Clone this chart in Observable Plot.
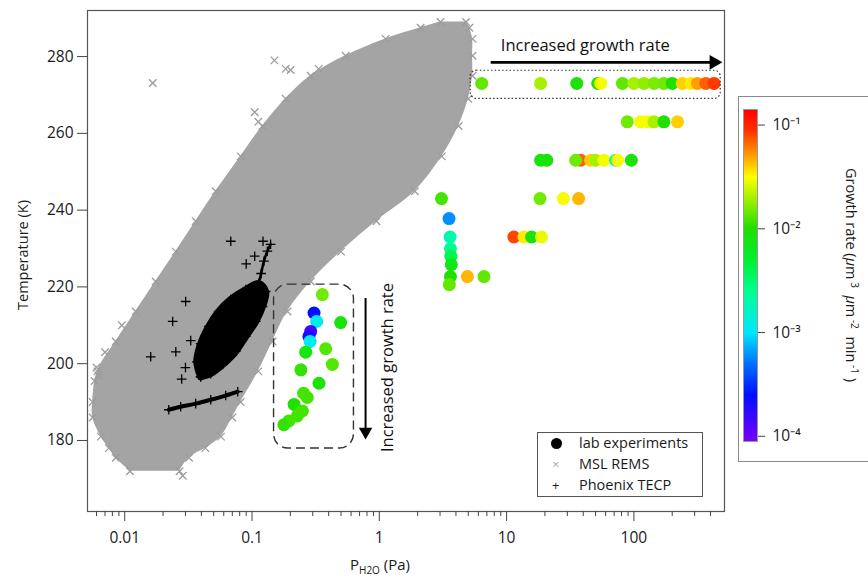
<!DOCTYPE html>
<html>
<head>
<meta charset="utf-8">
<script src="https://cdn.jsdelivr.net/npm/d3@7"></script>
<script src="https://cdn.jsdelivr.net/npm/@observablehq/plot@0.6"></script>
<style>
  body { margin: 0; background: #fff; font-family: "Open Sans", sans-serif; }
  #wrap { position: relative; width: 868px; height: 578px; overflow: hidden; }
  #wrap > svg, #wrap > figure { position: absolute; left: 0; top: 0; }
  .ov { position: absolute; color: #1a1a1a; white-space: nowrap; }
</style>
</head>
<body>
<div id="wrap"></div>
<script>
// ---------- MSL REMS cloud: temperature (K) with observed P range (Pa) ----------
const mslT    = [172, 175.5, 178, 181, 186, 190, 198, 205.8, 213.6, 221.4, 229.2, 237.1, 244.9, 254, 261.9, 269, 275, 280.2, 284.6, 287.5, 289];
const mslPmin = [0.011, 0.0085, 0.0075, 0.0065, 0.0056, 0.0056, 0.0061, 0.0085, 0.0122, 0.0175, 0.0252, 0.0361, 0.0519, 0.0815, 0.121, 0.184, 0.289, 0.544, 1.12, 2.11, 3.03];
const mslPmax = [0.027, 0.032, 0.043, 0.057, 0.070, 0.0815, 0.112, 0.145, 0.19, 0.29, 0.50, 0.95, 1.9, 3.1, 4.2, 5.0, 5.4, 5.4, 5.4, 5.1, 4.8];
// isolated MSL outliers
const mslOutP = [0.0166, 0.184, 0.201, 0.334, 0.0060, 0.0286, 0.0058, 0.0062, 0.150, 0.105, 0.112, 0.0095, 0.0070];
const mslOutT = [273.1, 276.8, 276.5, 276.8, 199.0, 170.8, 195.5, 197.0, 279.0, 265.5, 263.0, 210.0, 203.0];

// ---------- Phoenix TECP ----------
const phxStreakP = [0.0222, 0.0275, 0.0361, 0.0474, 0.0621, 0.0772];
const phxStreakT = [188.0, 188.8, 189.6, 190.6, 191.7, 192.7];
const phxLoopP = [0.0395, 0.0368, 0.0395, 0.0457, 0.0547, 0.068, 0.0893, 0.113, 0.128, 0.121, 0.107, 0.0893, 0.0745, 0.0589, 0.0474, 0.0395];
const phxLoopT = [196.6, 200.5, 205.2, 209.7, 213.6, 216.7, 219.3, 220.9, 218.8, 214.9, 211.0, 207.1, 203.2, 199.8, 197.4, 196.6];
const phxTailP = [0.113, 0.118, 0.124, 0.132, 0.140];
const phxTailT = [220.9, 223.5, 226.7, 229.3, 231.1];
const phxScatP = [0.0252, 0.0238, 0.0301, 0.0681, 0.122, 0.0160, 0.105, 0.090, 0.0280, 0.033, 0.030];
const phxScatT = [203.1, 211.0, 216.2, 231.9, 231.9, 201.8, 228.0, 226.0, 196.0, 206.0, 199.0];

// ---------- Lab experiments: P (Pa), T (K), growth rate ----------
const labP = [
  6.37, 18.5, 35.6, 52, 54.9, 81.3, 100, 120, 144, 172, 200, 240, 279, 315, 367, 426,
  88.7, 113, 128, 144, 172, 220,
  18.5, 20.7, 38.2, 34.9, 45.8, 50.1, 58.2, 71.9, 74.6, 95.5,
  3.08, 18.3, 27.9, 36.8,
  3.53,
  3.60, 11.4, 13.7, 15.7, 18.8,
  3.62, 3.65, 3.68, 3.62, 4.92, 6.64, 3.55,
  0.357, 0.307, 0.322, 0.497, 0.289, 0.280, 0.286, 0.264, 0.379, 0.428, 0.242, 0.336, 0.254, 0.272, 0.214, 0.249, 0.227, 0.195, 0.178
];
const labT = [
  273, 273, 273, 273, 273, 273, 273, 273, 273, 273, 273, 273, 273, 273, 273, 273,
  263, 263, 263, 263, 263, 263,
  253, 253, 253, 253, 253, 253, 253, 253, 253, 253,
  243, 243, 243, 243,
  237.8,
  233, 233, 233, 233, 233,
  230, 228, 225.8, 222.7, 222.7, 222.7, 220.6,
  218.0, 213.2, 211.0, 210.7, 208.4, 207.1, 205.8, 203.0, 203.9, 199.8, 198.4, 194.9, 192.3, 191.2, 189.4, 187.7, 186.4, 185.1, 184.1
];
const labRate = [
  0.014, 0.02, 0.009, 0.009, 0.03, 0.014, 0.02, 0.018, 0.016, 0.015, 0.01, 0.04, 0.035, 0.05, 0.07, 0.085,
  0.015, 0.03, 0.03, 0.02, 0.01, 0.04,
  0.009, 0.009, 0.07, 0.015, 0.04, 0.02, 0.03, 0.002, 0.03, 0.009,
  0.012, 0.015, 0.03, 0.045,
  0.0006,
  0.002, 0.08, 0.035, 0.009, 0.028,
  0.0025, 0.004, 0.007, 0.01, 0.045, 0.014, 0.014,
  0.015, 0.00025, 0.0012, 0.009, 0.00014, 0.0002, 0.0011, 0.008, 0.013, 0.013, 0.011, 0.009, 0.012, 0.012, 0.01, 0.012, 0.012, 0.012, 0.011
];

// ---------- axes ----------
const xMajor = [0.01, 0.1, 1, 10, 100];
const xMinor = [0.006, 0.007, 0.008, 0.009, 0.02, 0.03, 0.04, 0.05, 0.06, 0.07, 0.08, 0.09,
  0.2, 0.3, 0.4, 0.5, 0.6, 0.7, 0.8, 0.9, 2, 3, 4, 5, 6, 7, 8, 9,
  20, 30, 40, 50, 60, 70, 80, 90, 200, 300, 400];
const yTicks = [180, 200, 220, 240, 260, 280];
const cbTicks = [-4, -3, -2, -1];
const cbLabels = ["10⁻⁴", "10⁻³", "10⁻²", "10⁻¹"];

// ---------- annotations (data units) ----------
const dashBox = {x1: 0.149, x2: 0.632, y1: 177.9, y2: 220.6};
const dotBox  = {x1: 5.22, x2: 481, y1: 269, y2: 276.3};
const hArrow  = {x1: 7.5, tip: 425, y: 278.5};
const vArrow  = {x: 0.78, y1: 217.1, tip: 182.3};

// ---------- colour ramp (rainbow, log growth rate) ----------
const rampExp   = [-4.05, -3.6, -3.3, -3.0, -2.6, -2.3, -2.0, -1.75, -1.5, -1.3, -1.05, -0.85];
const rampColor = ["#7a00ff", "#0010ff", "#0070ff", "#00e8ff", "#00ff90", "#00f030", "#20e000", "#90ee00", "#ffff00", "#ffa000", "#ff3000", "#ff0000"];
const rampScale = d3.scaleLinear().domain(rampExp).range(rampColor).clamp(true);
const eMin = -4.05, eMax = -0.85;
const ramp = t => rampScale(eMin + t * (eMax - eMin));

// ---------- build tables ----------
const mslBand = mslT.map((t, i) => ({T: t, lo: mslPmin[i], hi: mslPmax[i]}));
const mslPts = mslBand.flatMap(d => [{P: d.lo, T: d.T}, {P: d.hi, T: d.T}])
  .concat(mslOutP.map((p, i) => ({P: p, T: mslOutT[i]})));
const zip = (a, b) => a.map((p, i) => ({P: p, T: b[i]}));
const phxStreak = zip(phxStreakP, phxStreakT);
const phxLoop = zip(phxLoopP, phxLoopT);
const phxTail = zip(phxTailP, phxTailT);
const phxAll = [...phxStreak, ...phxLoop, ...phxTail, ...zip(phxScatP, phxScatT)];
const lab = labP.map((p, i) => ({P: p, T: labT[i], rate: labRate[i]}));

const main = Plot.plot({
  width: 868, height: 578,
  marginLeft: 87, marginRight: 144, marginTop: 10, marginBottom: 67,
  style: {fontFamily: "Open Sans, sans-serif", fontSize: "15px", color: "#1a1a1a", background: "transparent"},
  x: {type: "log", domain: [0.0051, 515]},
  y: {domain: [161.5, 292]},
  color: {type: "log", domain: [10 ** eMin, 10 ** eMax], interpolate: () => ramp},
  marks: [
    Plot.areaX(mslBand, {y: "T", x1: "lo", x2: "hi", fill: "#a4a4a4", curve: "catmull-rom"}),
    Plot.dot(mslPts, {x: "P", y: "T", symbol: "times", r: 3.5, stroke: "#9c9c9c", strokeWidth: 1.3}),
    Plot.line(phxStreak, {x: "P", y: "T", stroke: "#000", strokeWidth: 4, curve: "catmull-rom"}),
    Plot.line(phxLoop, {x: "P", y: "T", stroke: "#000", fill: "#000", strokeWidth: 7, strokeLinejoin: "round", curve: "catmull-rom"}),
    Plot.line(phxTail, {x: "P", y: "T", stroke: "#000", strokeWidth: 2.5, curve: "catmull-rom"}),
    Plot.dot(phxAll, {x: "P", y: "T", symbol: "plus", r: 3.2, stroke: "#000", strokeWidth: 1.3}),
    Plot.dot(lab, {x: "P", y: "T", fill: "rate", r: 6.5}),
    Plot.rect([dashBox], {x1: "x1", x2: "x2", y1: "y1", y2: "y2", fill: "none", stroke: "#333", strokeWidth: 1.4, strokeDasharray: "9,5", rx: 14}),
    Plot.rect([dotBox], {x1: "x1", x2: "x2", y1: "y1", y2: "y2", fill: "none", stroke: "#333", strokeWidth: 1.2, strokeDasharray: "1.5,2.2", rx: 6}),
    Plot.link([hArrow], {x1: "x1", x2: "tip", y1: "y", y2: "y", stroke: "#000", strokeWidth: 2.6}),
    Plot.dot([hArrow], {x: "tip", y: "y", symbol: "triangle", r: 5.5, fill: "#000", rotate: 90}),
    Plot.text(["Increased growth rate"], {x: [9.0], y: [282.9], textAnchor: "start", fontSize: 16.5, fill: "#111"}),
    Plot.link([vArrow], {x1: "x", x2: "x", y1: "y1", y2: "tip", stroke: "#000", strokeWidth: 2}),
    Plot.dot([vArrow], {x: "x", y: "tip", symbol: "triangle", r: 5, fill: "#000", rotate: 180}),
    Plot.text(["Increased growth rate"], {x: [1.16], y: [199.0], rotate: -90, fontSize: 16.5, fill: "#111"}),
    Plot.frame({stroke: "#555", strokeWidth: 1.2}),
    Plot.axisX({ticks: xMinor, tickSize: 5, tickFormat: () => "", label: null, stroke: "#444"}),
    Plot.axisX({ticks: xMajor, tickSize: 10, tickPadding: 10, tickFormat: d => String(d), label: null, stroke: "#444", fontSize: 15.5}),
    Plot.axisY({ticks: yTicks, tickSize: 10, tickPadding: 4, label: null, stroke: "#444", fontSize: 15.5})
  ]
});
const wrap = document.getElementById("wrap");
wrap.appendChild(main);

function ov(html, css) {
  const d = document.createElement("div");
  d.className = "ov";
  d.innerHTML = html;
  d.style.cssText += css;
  wrap.appendChild(d);
  return d;
}
// axis titles
ov("Temperature (K)", "left:22px;top:255px;font-size:14.5px;transform:translate(-50%,-50%) rotate(-90deg);");
ov("P<sub style='font-size:10px'>H2O</sub> (Pa)", "left:380px;top:565px;font-size:15px;transform:translate(-50%,-50%);");

// legend
ov(`<div style="position:relative;width:164px;height:63px;border:1px solid #555;background:#fff;font-size:14.5px;line-height:18px;">
  <div style="position:absolute;left:13px;top:5px;width:11px;height:11px;border-radius:50%;background:#000;"></div>
  <div style="position:absolute;left:41px;top:1px;">lab experiments</div>
  <div style="position:absolute;left:14px;top:23px;font-size:13px;line-height:16px;color:#aaa;">×</div>
  <div style="position:absolute;left:41px;top:22px;">MSL REMS</div>
  <div style="position:absolute;left:14px;top:44px;font-size:13px;line-height:16px;">+</div>
  <div style="position:absolute;left:41px;top:43px;">Phoenix TECP</div>
</div>`, "left:537px;top:432px;");

// colour-bar panel
ov("", "left:738px;top:96px;width:150px;height:364px;border:1px solid #8a8a8a;background:#fff;");
const cb = Plot.plot({
  width: 60, height: 352,
  marginLeft: 0, marginRight: 46, marginTop: 10, marginBottom: 10,
  style: {fontFamily: "Open Sans, sans-serif", fontSize: "15px", color: "#1a1a1a", background: "transparent", overflow: "visible"},
  x: {domain: [0, 1], axis: null},
  y: {domain: [eMin, eMax]},
  color: {type: "log", domain: [10 ** eMin, 10 ** eMax], interpolate: () => ramp},
  marks: [
    Plot.raster({x1: 0, x2: 1, y1: eMin, y2: eMax, fill: (x, y) => 10 ** y, width: 2, height: 320, imageRendering: "auto"}),
    Plot.frame({stroke: "#999"}),
    Plot.axisY({anchor: "right", ticks: cbTicks, tickSize: 7, tickPadding: 8, tickFormat: d => cbLabels[cbTicks.indexOf(d)], label: null, stroke: "#444", fontSize: 15.5})
  ]
});
cb.style.position = "absolute";
cb.style.left = "743px";
cb.style.top = "99px";
wrap.appendChild(cb);
ov("Growth rate (<i>μ</i>m<sup style='font-size:10px'>&nbsp;3</sup>&nbsp; <i>μ</i>m<sup style='font-size:10px'>&nbsp;-2</sup>&nbsp; min<sup style='font-size:10px'>&nbsp;-1</sup>&nbsp;)", "left:852px;top:275px;font-size:14.5px;transform:translate(-50%,-50%) rotate(90deg);");
</script>
</body>
</html>
